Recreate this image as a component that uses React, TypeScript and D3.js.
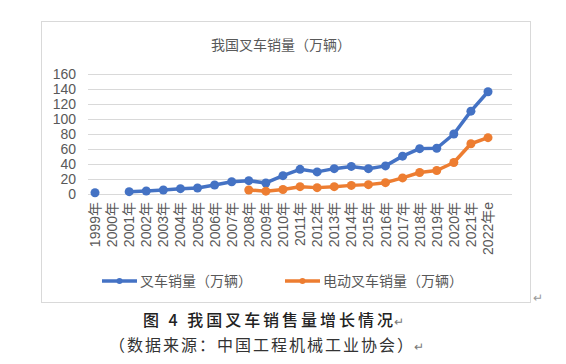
import React from 'react';
import * as d3 from 'd3';

const years = [
  '1999年', '2000年', '2001年', '2002年', '2003年', '2004年', '2005年', '2006年',
  '2007年', '2008年', '2009年', '2010年', '2011年', '2012年', '2013年', '2014年',
  '2015年', '2016年', '2017年', '2018年', '2019年', '2020年', '2021年', '2022年e',
];

// 叉车销量（万辆）
const forklift: (number | null)[] = [
  1.7, null, 3.1, 4.0, 5.3, 7.1, 8.0, 12.0, 16.4, 17.8, 14.7, 24.5,
  32.9, 29.5, 33.8, 36.8, 33.8, 37.5, 50.5, 60.5, 61.0, 80.0, 110.5, 136.3,
];

// 电动叉车销量（万辆）
const electric: (number | null)[] = [
  null, null, null, null, null, null, null, null, null, 5.3, 3.8, 6.0,
  9.8, 8.5, 9.8, 11.5, 12.5, 15.1, 21.5, 28.7, 31.3, 42.0, 67.0, 75.1,
];

const yTicks = [0, 20, 40, 60, 80, 100, 120, 140, 160];

const seriesNames = ['叉车销量（万辆）', '电动叉车销量（万辆）'];
const colors = ['#4472C4', '#ED7D31'];

const FONT = '"Liberation Sans", "Noto Sans CJK SC", sans-serif';
const CJK = '"Noto Sans CJK SC", sans-serif';

const App = () => {
  const width = 566;
  const height = 364;

  const x = d3.scalePoint<string>().domain(years).range([95, 488]);
  const y = d3.scaleLinear().domain([0, 160]).range([194, 74]);

  const line = d3
    .line<number | null>()
    .defined((d) => d != null)
    .x((_, i) => x(years[i]) as number)
    .y((d) => y(d as number));

  const all = [forklift, electric];

  return (
    <svg
      width={width}
      height={height}
      style={{ position: 'absolute', left: 0, top: 0, background: '#fff' }}
    >
      <rect x={41.5} y={21.5} width={489} height={281} fill="#fff" stroke="#d9d9d9" />

      <text x={281} y={50} textAnchor="middle" fontFamily={CJK} fontSize={14} fill="#595959">
        我国叉车销量（万辆）
      </text>

      {yTicks.map((t) => (
        <g key={t}>
          <line x1={88} x2={512} y1={y(t) + 0.5} y2={y(t) + 0.5} stroke="#d9d9d9" strokeWidth={1} />
          <text
            x={76}
            y={y(t)}
            dy="0.36em"
            textAnchor="end"
            fontFamily={FONT}
            fontSize={14}
            fill="#595959"
          >
            {t}
          </text>
        </g>
      ))}

      {years.map((yr) => (
        <text
          key={yr}
          transform={`translate(${x(yr)},202) rotate(-90)`}
          textAnchor="end"
          dy="0.36em"
          fontFamily={FONT}
          fontSize={14}
          fill="#595959"
        >
          {yr}
        </text>
      ))}

      {all.map((s, k) => (
        <g key={k}>
          <path
            d={line(s) || ''}
            fill="none"
            stroke={colors[k]}
            strokeWidth={3.5}
            strokeLinejoin="round"
            strokeLinecap="round"
          />
          {s.map((v, i) =>
            v == null ? null : (
              <circle key={i} cx={x(years[i])} cy={y(v)} r={4.5} fill={colors[k]} />
            )
          )}
        </g>
      ))}

      {seriesNames.map((name, k) => {
        const lx = k === 0 ? 102 : 285;
        return (
          <g key={name}>
            <line x1={lx} x2={lx + 35} y1={281} y2={281} stroke={colors[k]} strokeWidth={3.5} />
            <circle cx={lx + 17.5} cy={281} r={3} fill={colors[k]} />
            <text x={lx + 38} y={286} fontFamily={CJK} fontSize={14} fill="#595959">
              {name}
            </text>
          </g>
        );
      })}

      <text x={533} y={302} fontFamily={CJK} fontSize={12} fill="#999">↵</text>

      <text
        x={143}
        y={326}
        fontFamily={CJK}
        fontSize={16}
        fontWeight={500}
        fill="#222"
        textLength={250}
        lengthAdjust="spacing"
      >
        图 4 我国叉车销售量增长情况
      </text>
      <text x={394} y={326} fontFamily={CJK} fontSize={12} fill="#777">↵</text>

      <text
        x={109}
        y={351}
        fontFamily={CJK}
        fontSize={16}
        fill="#333"
        textLength={304}
        lengthAdjust="spacing"
      >
        （数据来源：中国工程机械工业协会）
      </text>
      <text x={414} y={351} fontFamily={CJK} fontSize={12} fill="#777">↵</text>
    </svg>
  );
};

export default App;
